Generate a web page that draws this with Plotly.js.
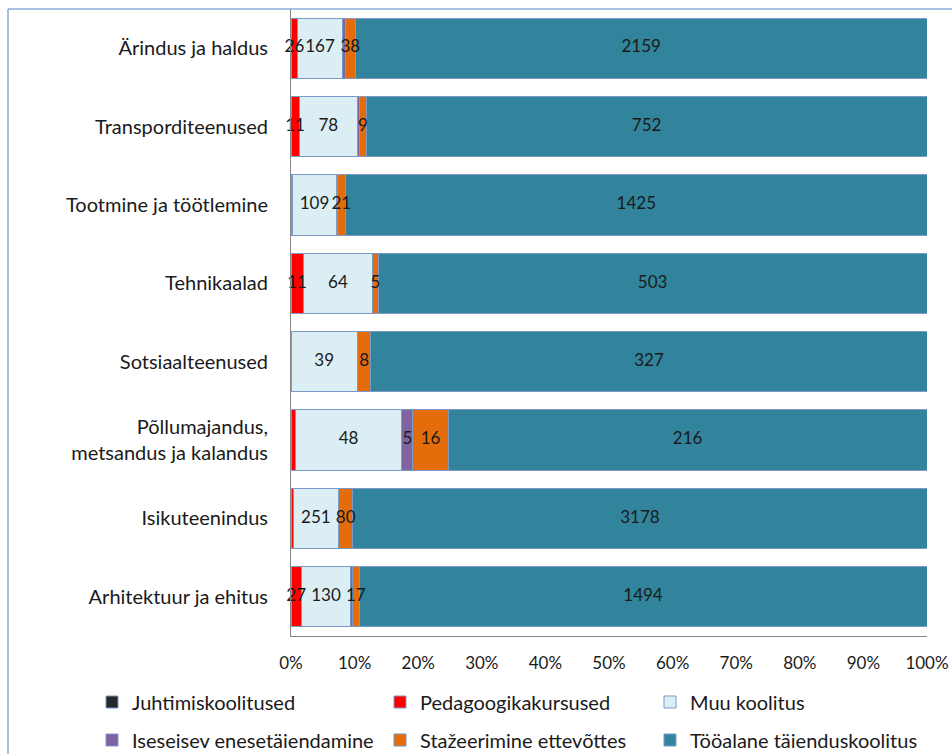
<!DOCTYPE html>
<html>
<head>
<meta charset="utf-8">
<script src="https://cdn.plot.ly/plotly-3.0.1.min.js"></script>
<style>html,body{margin:0;padding:0;background:#fff;}#chart{width:952px;height:754px;}</style>
</head>
<body>
<div id="chart"></div>
<script>
// Categories (top to bottom)
const categories = [
  "Ärindus ja haldus",
  "Transporditeenused",
  "Tootmine ja töötlemine",
  "Tehnikaalad",
  "Sotsiaalteenused",
  "Põllumajandus,<br>metsandus ja kalandus",
  "Isikuteenindus",
  "Arhitektuur ja ehitus"
];
const seriesNames = [
  "Juhtimiskoolitused",
  "Pedagoogikakursused",
  "Muu koolitus",
  "Iseseisev enesetäiendamine",
  "Stažeerimine ettevõttes",
  "Tööalane täienduskoolitus"
];
const juhtimis    = [0, 0, 0, 0, 0, 0, 0, 0];
const pedagoogika = [26, 11, 3, 11, 0, 2, 12, 27];
const muu         = [167, 78, 109, 64, 39, 48, 251, 130];
const iseseisev   = [12, 3, 1, 0, 0, 5, 0, 5];
const stazeerimine= [38, 9, 21, 5, 8, 16, 80, 17];
const tooalane    = [2159, 752, 1425, 503, 327, 216, 3178, 1494];
// which values carry a data label in the original
const juhtimisLabel    = [false, false, false, false, false, false, false, false];
const pedagoogikaLabel = [true, true, false, true, false, false, false, true];
const muuLabel         = [true, true, true, true, true, true, true, true];
const iseseisevLabel   = [false, false, false, false, false, true, false, false];
const stazeerimineLabel= [true, true, true, true, true, true, true, true];
const tooalaneLabel    = [true, true, true, true, true, true, true, true];

const values = [juhtimis, pedagoogika, muu, iseseisev, stazeerimine, tooalane];
const labelFlags = [juhtimisLabel, pedagoogikaLabel, muuLabel, iseseisevLabel, stazeerimineLabel, tooalaneLabel];
const colors = ["#262626", "#ff0000", "#dbeef4", "#8064a2", "#e46c0a", "#31849b"];
const FONT = "Lato, 'Noto Sans', sans-serif";
const legendIds = ["legend", "legend2", "legend3", "legend4", "legend5", "legend6"];

const barTraces = values.map((vals, i) => ({
  type: "bar",
  orientation: "h",
  name: seriesNames[i],
  y: categories,
  x: vals,
  marker: {color: colors[i], line: {color: "#7b9ac8", width: 1}},
  legend: legendIds[i],
  hoverinfo: "skip"
}));

// data labels: centred on each stacked segment (percent of category total)
const totals = categories.map((c, j) => values.reduce((s, arr) => s + arr[j], 0));
const labelTraces = values.map((vals, i) => {
  const xs = [], ys = [], ts = [];
  vals.forEach((v, j) => {
    if (!labelFlags[i][j]) return;
    let before = 0;
    for (let k = 0; k < i; k++) before += values[k][j];
    xs.push((before + v / 2) / totals[j] * 100);
    ys.push(categories[j]);
    ts.push(String(v));
  });
  return {
    type: "scatter", mode: "text", x: xs, y: ys, text: ts,
    textposition: "middle center",
    textfont: {family: FONT, size: 17, color: "#1a1a1a"},
    showlegend: false, hoverinfo: "skip", cliponaxis: false
  };
});

const L = 291, R = 25, T = 9, B = 118, W = 952, H = 754;
const pw = W - L - R, ph = H - T - B;
const px = v => (v - L) / pw;
const py = v => (H - B - v) / ph;

const legendLefts = [92, 380, 650, 92, 380, 650];
const legendRows = [702, 702, 702, 740, 740, 740];

const layout = {
  width: W, height: H,
  margin: {l: L, r: R, t: T, b: B, pad: 0},
  paper_bgcolor: "#ffffff",
  plot_bgcolor: "#ffffff",
  barmode: "stack",
  barnorm: "percent",
  bargap: 0.23,
  font: {family: FONT, color: "#1a1a1a"},
  xaxis: {
    range: [0, 100], dtick: 10, ticksuffix: "%",
    showgrid: false, zeroline: false,
    showline: true, linecolor: "#868686", linewidth: 1,
    ticks: "", ticklabelstandoff: 12,
    tickfont: {family: FONT, size: 17, color: "#1a1a1a"},
    fixedrange: true
  },
  yaxis: {
    type: "category", autorange: "reversed",
    showgrid: false, zeroline: false,
    showline: true, linecolor: "#868686", linewidth: 1,
    ticks: "", ticklabelstandoff: 18,
    tickfont: {family: FONT, size: 20, color: "#1a1a1a"},
    fixedrange: true
  },
  showlegend: true,
  shapes: [
    {type: "line", xref: "paper", yref: "paper", x0: px(8), x1: px(960), y0: py(9), y1: py(9),
     line: {color: "#8eaadb", width: 1.5}},
    {type: "line", xref: "paper", yref: "paper", x0: px(8), x1: px(8), y0: py(9), y1: py(760),
     line: {color: "#8eaadb", width: 1.5}}
  ]
};
legendIds.forEach((id, i) => {
  layout[id] = {
    orientation: "h", xref: "container", yref: "container",
    x: legendLefts[i] / W, xanchor: "left",
    y: 1 - legendRows[i] / H, yanchor: "middle",
    font: {family: FONT, size: 20, color: "#1a1a1a"},
    bgcolor: "rgba(0,0,0,0)"
  };
});

Plotly.newPlot("chart", barTraces.concat(labelTraces), layout, {displayModeBar: false, staticPlot: true});
</script>
</body>
</html>
